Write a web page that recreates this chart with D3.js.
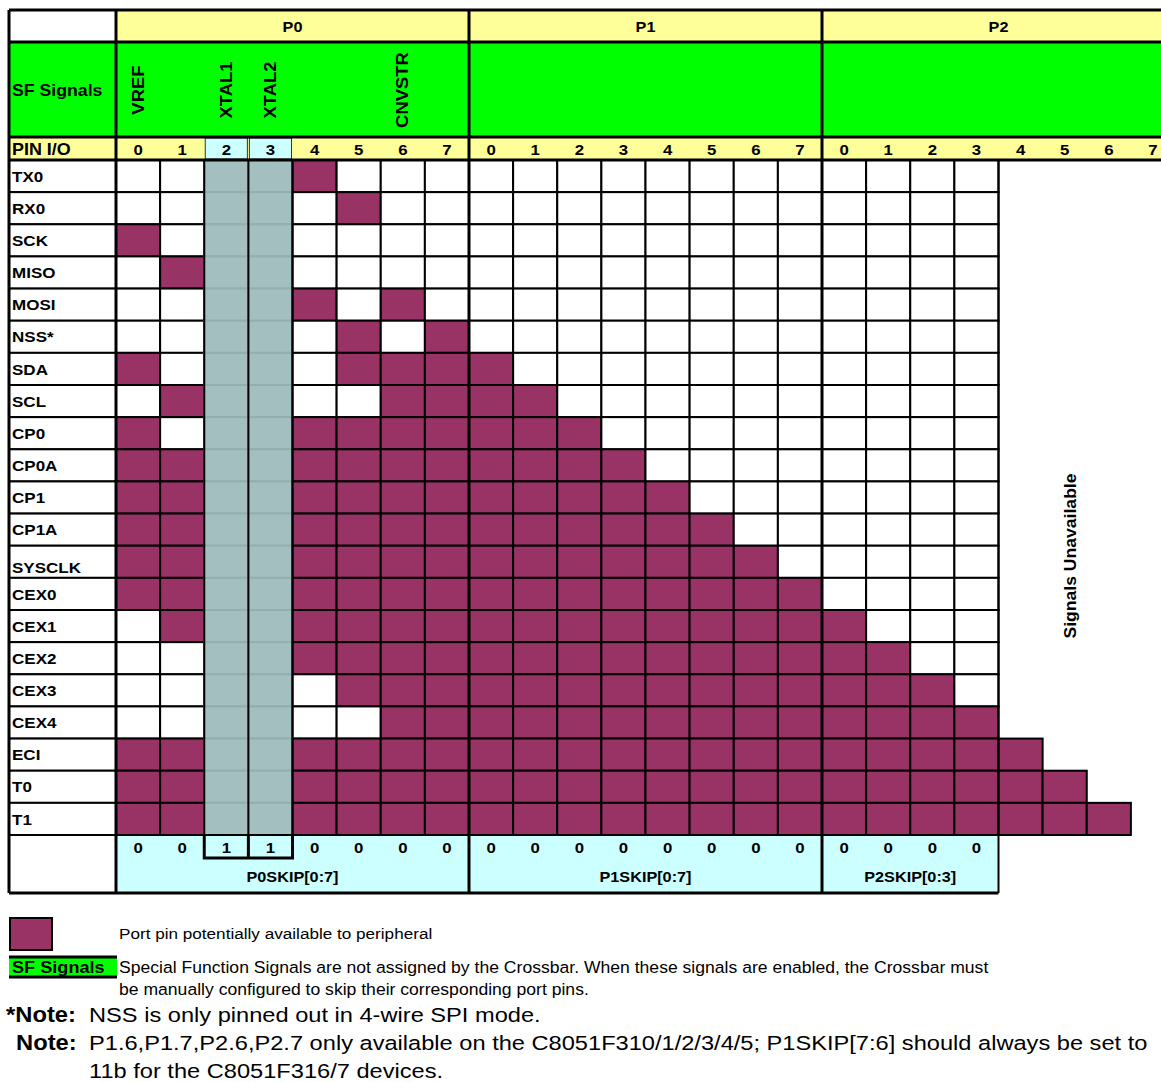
<!DOCTYPE html>
<html>
<head>
<meta charset="utf-8">
<script src="https://cdn.jsdelivr.net/npm/d3@7"></script>
<style>
  body { margin: 0; background: #fff; }
  svg text { font-family: "Liberation Sans", Arial, sans-serif; fill: #000; }
</style>
</head>
<body>
<div id="chart"></div>
<script>
// ---- data ----
var ports = ["P0", "P1", "P2"];
var pinLabels = ["0","1","2","3","4","5","6","7","0","1","2","3","4","5","6","7","0","1","2","3","4","5","6","7"];
var sfSignals = [
  {col: 0, label: "VREF"},
  {col: 2, label: "XTAL1"},
  {col: 3, label: "XTAL2"},
  {col: 6, label: "CNVSTR"}
];
var skippedCols = [2, 3];
var signals = ["TX0","RX0","SCK","MISO","MOSI","NSS*","SDA","SCL","CP0","CP0A","CP1","CP1A",
               "SYSCLK","CEX0","CEX1","CEX2","CEX3","CEX4","ECI","T0","T1"];
// column index of each pin that is potentially available (0-7 P0, 8-15 P1, 16-23 P2)
var available = [
  [4],
  [5],
  [0],
  [1],
  [4, 6],
  [5, 7],
  [0, 5, 6, 7, 8],
  [1, 6, 7, 8, 9],
  [0, 4, 5, 6, 7, 8, 9, 10],
  [0, 1, 4, 5, 6, 7, 8, 9, 10, 11],
  [0, 1, 4, 5, 6, 7, 8, 9, 10, 11, 12],
  [0, 1, 4, 5, 6, 7, 8, 9, 10, 11, 12, 13],
  [0, 1, 4, 5, 6, 7, 8, 9, 10, 11, 12, 13, 14],
  [0, 1, 4, 5, 6, 7, 8, 9, 10, 11, 12, 13, 14, 15],
  [1, 4, 5, 6, 7, 8, 9, 10, 11, 12, 13, 14, 15, 16],
  [4, 5, 6, 7, 8, 9, 10, 11, 12, 13, 14, 15, 16, 17],
  [5, 6, 7, 8, 9, 10, 11, 12, 13, 14, 15, 16, 17, 18],
  [6, 7, 8, 9, 10, 11, 12, 13, 14, 15, 16, 17, 18, 19],
  [0, 1, 4, 5, 6, 7, 8, 9, 10, 11, 12, 13, 14, 15, 16, 17, 18, 19, 20],
  [0, 1, 4, 5, 6, 7, 8, 9, 10, 11, 12, 13, 14, 15, 16, 17, 18, 19, 20, 21],
  [0, 1, 4, 5, 6, 7, 8, 9, 10, 11, 12, 13, 14, 15, 16, 17, 18, 19, 20, 21, 22]
];
var skipValues = [0,0,1,1,0,0,0,0, 0,0,0,0,0,0,0,0, 0,0,0,0];
var skipLabels = ["P0SKIP[0:7]", "P1SKIP[0:7]", "P2SKIP[0:3]"];
var skipSpans = [[0, 8], [8, 16], [16, 20]];

var notes = [
  {bold: "*Note:", boldX: 6, text: ["NSS is only pinned out in 4-wire SPI mode."]},
  {bold: "Note:", boldX: 16, text: ["P1.6,P1.7,P2.6,P2.7 only available on the C8051F310/1/2/3/4/5; P1SKIP[7:6] should always be set to",
                                    "11b for the C8051F316/7 devices."]}
];

// ---- layout ----
var W = 1161, H = 1082,
    left = 9, labelRight = 116,
    topY = 10, sfTop = 42, pinTop = 137, rowTop = 160, rowBottom = 835, bottomY = 893,
    colW = 44.125, baseCols = 20,
    sx = 1.12;   // the source glyphs are a little wider than Liberation Sans

var maroon = "#993366", yellow = "#ffff99", green = "#00ff00", cyan = "#ccffff", grey = "#a3bfbf";

var x = d3.scaleLinear().domain([0, 24]).range([labelRight, labelRight + 24 * colW]);
var y = d3.scaleLinear().domain([0, signals.length]).range([rowTop, rowBottom]);

var svg = d3.select("#chart").append("svg")
    .attr("width", W).attr("height", H);

// text helper: place at (tx,ty), optionally rotated, stretched along the text direction
var label = function (g, tx, ty, str, size, bold, anchor, rot) {
    return g.append("text")
        .attr("transform", "translate(" + tx + "," + ty + ")" + (rot ? " rotate(" + rot + ")" : "") + " scale(" + sx + ",1)")
        .attr("text-anchor", anchor || "start")
        .attr("dominant-baseline", "central")
        .style("font-weight", bold ? "bold" : "normal")
        .style("font-size", size + "px")
        .text(str);
};

// header bands
svg.append("rect").attr("x", left).attr("y", topY).attr("width", labelRight - left).attr("height", sfTop - topY).attr("fill", "#fff");
svg.selectAll(".portHead").data(ports).enter().append("rect")
    .attr("x", function (d, i) { return x(i * 8); })
    .attr("y", topY).attr("width", 8 * colW).attr("height", sfTop - topY)
    .attr("fill", yellow);
ports.forEach(function (p, i) {
    label(svg, x(i * 8 + 4), (topY + sfTop) / 2 + 1, p, 14.5, true, "middle");
});

svg.append("rect").attr("x", left).attr("y", sfTop).attr("width", W - left).attr("height", pinTop - sfTop).attr("fill", green);
label(svg, 12, 91, "SF Signals", 15.8, true);
sfSignals.forEach(function (d) {
    label(svg, x(d.col) + colW / 2, 90, d.label, 16.5, true, "middle", -90);
});

svg.append("rect").attr("x", left).attr("y", pinTop).attr("width", W - left).attr("height", rowTop - pinTop).attr("fill", yellow);
svg.selectAll(".pinCyan").data(skippedCols).enter().append("rect")
    .attr("x", function (d) { return x(d) + 1; }).attr("y", pinTop + 1)
    .attr("width", colW - 2).attr("height", rowTop - pinTop - 2)
    .attr("fill", cyan).attr("stroke", "#333").attr("stroke-width", 1);
label(svg, 12, (pinTop + rowTop) / 2 + 1, "PIN I/O", 16, true);
pinLabels.forEach(function (d, i) {
    label(svg, x(i) + colW / 2, (pinTop + rowTop) / 2 + 1, d, 15, true, "middle");
});

// row labels
var rowsG = svg.append("g");
rowsG.selectAll("rect").data(signals).enter().append("rect")
    .attr("x", left).attr("y", function (d, i) { return y(i); })
    .attr("width", labelRight - left).attr("height", y(1) - y(0))
    .attr("fill", "#fff").attr("stroke", "#000").attr("stroke-width", 2);
signals.forEach(function (d, i) {
    label(rowsG, 12, (y(i) + y(i + 1)) / 2 + (d === "SYSCLK" ? 6 : 0), d, 15.2, true);
});

// cells
var cells = [];
signals.forEach(function (s, r) {
  var n = Math.max(baseCols, d3.max(available[r]) + 1);
  for (var c = 0; c < n; c++) {
    cells.push({row: r, col: c,
      skipped: skippedCols.indexOf(c) >= 0,
      on: available[r].indexOf(c) >= 0});
  }
});
svg.append("g").selectAll("rect").data(cells).enter().append("rect")
    .attr("x", function (d) { return x(d.col); })
    .attr("y", function (d) { return y(d.row); })
    .attr("width", colW).attr("height", y(1) - y(0))
    .attr("fill", function (d) { return d.skipped ? grey : (d.on ? maroon : "#fff"); })
    .attr("stroke", function (d) { return d.skipped ? "#93b0b0" : "#000"; })
    .attr("stroke-width", 2);

// dark verticals around the skipped columns
svg.append("g").selectAll("line").data([2, 3, 4]).enter().append("line")
    .attr("x1", function (d) { return x(d); }).attr("x2", function (d) { return x(d); })
    .attr("y1", rowTop).attr("y2", rowBottom)
    .attr("stroke", "#000").attr("stroke-width", 2);

// Signals Unavailable
label(svg, 1071, 556, "Signals Unavailable", 15.7, true, "middle", -90);

// skip register row
svg.append("rect").attr("x", left).attr("y", rowBottom).attr("width", labelRight - left).attr("height", bottomY - rowBottom).attr("fill", "#fff");
svg.selectAll(".skipBg").data(skipSpans).enter().append("rect")
    .attr("x", function (d) { return x(d[0]); }).attr("y", rowBottom)
    .attr("width", function (d) { return x(d[1]) - x(d[0]); }).attr("height", bottomY - rowBottom)
    .attr("fill", cyan);
skipValues.forEach(function (d, i) {
    label(svg, x(i) + colW / 2, 848, d, 15, true, "middle");
});
skipLabels.forEach(function (d, i) {
    label(svg, (x(skipSpans[i][0]) + x(skipSpans[i][1])) / 2, 877, d, 14.5, true, "middle");
});
svg.append("path")
    .attr("d", "M" + x(2) + "," + rowBottom + "V858H" + x(4) + "V" + rowBottom + "M" + x(3) + "," + rowBottom + "V858")
    .attr("fill", "none").attr("stroke", "#000").attr("stroke-width", 3);

// heavy frame lines
var heavy = svg.append("g").attr("stroke", "#000").attr("stroke-width", 3).attr("fill", "none");
[topY, sfTop, pinTop, rowTop].forEach(function (yy) {
  heavy.append("line").attr("x1", left).attr("x2", W).attr("y1", yy).attr("y2", yy);
});
heavy.append("line").attr("x1", left).attr("x2", x(23)).attr("y1", rowBottom).attr("y2", rowBottom).attr("stroke-width", 2);
heavy.append("line").attr("x1", left).attr("x2", x(20)).attr("y1", bottomY).attr("y2", bottomY);
heavy.append("line").attr("x1", left).attr("x2", left).attr("y1", topY).attr("y2", bottomY);
[0, 8, 16].forEach(function (c) {
  heavy.append("line").attr("x1", x(c)).attr("x2", x(c)).attr("y1", topY).attr("y2", bottomY);
});
heavy.append("line").attr("x1", x(20)).attr("x2", x(20)).attr("y1", rowTop).attr("y2", bottomY).attr("stroke-width", 2);

// legend
svg.append("rect").attr("x", 10).attr("y", 918).attr("width", 42).attr("height", 32)
    .attr("fill", maroon).attr("stroke", "#000").attr("stroke-width", 2);
label(svg, 119, 933, "Port pin potentially available to peripheral", 15.3);
svg.append("rect").attr("x", 9).attr("y", 957).attr("width", 108).attr("height", 20).attr("fill", green);
svg.append("line").attr("x1", 9).attr("x2", 117).attr("y1", 957).attr("y2", 957).attr("stroke", "#000").attr("stroke-width", 3);
svg.append("line").attr("x1", 9).attr("x2", 117).attr("y1", 977).attr("y2", 977).attr("stroke", "#000").attr("stroke-width", 3);
label(svg, 12, 967, "SF Signals", 16.2, true);
label(svg, 119, 968, "Special Function Signals are not assigned by the Crossbar. When these signals are enabled, the Crossbar must", 15.7);
label(svg, 119, 990, "be manually configured to skip their corresponding port pins.", 15.7);

// notes
var ny = 1015;
notes.forEach(function (n) {
  label(svg, n.boldX, ny, n.bold, 21.2, true);
  n.text.forEach(function (t) {
    label(svg, 89, ny, t, 21.1);
    ny += 28;
  });
});
</script>
</body>
</html>
